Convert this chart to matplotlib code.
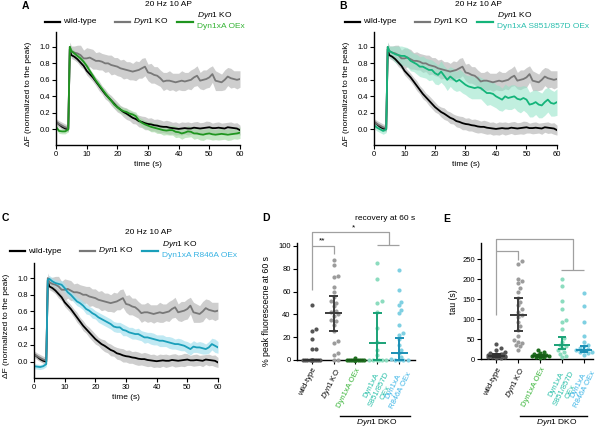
import numpy as np
import matplotlib
matplotlib.use('Agg')
import matplotlib.pyplot as plt
from matplotlib.lines import Line2D
from matplotlib.ticker import FormatStrFormatter

plt.rcParams['font.family'] = ['Liberation Sans', 'DejaVu Sans']
plt.rcParams['mathtext.fontset'] = 'custom'
plt.rcParams['mathtext.rm'] = 'Liberation Sans'
plt.rcParams['mathtext.it'] = 'Liberation Sans:italic'

W, H = 600, 428

# ---- traces (normalized dF), time in s ----
time = [0, 1, 2, 3, 4, 4.5] + list(range(5, 61))

wt_mean = [0.09, 0.06, 0.03, 0.01, 0.00, 0.97,
           0.90, 0.88, 0.85, 0.81, 0.77, 0.71, 0.67, 0.63, 0.58, 0.53,
           0.48, 0.43, 0.39, 0.35, 0.31, 0.27, 0.24, 0.21, 0.19, 0.165,
           0.14, 0.125, 0.10, 0.09, 0.075, 0.065, 0.06, 0.05, 0.045, 0.035,
           0.03, 0.03, 0.02, 0.015, 0.01, 0.005, 0.01, 0.015, 0.01, 0.01,
           0.02, 0.015, 0.01, 0.015, 0.02, 0.025, 0.015, 0.015, 0.02, 0.015,
           0.01, 0.025, 0.02, 0.015, 0.01, -0.01]
wt_err = [0.03, 0.03, 0.03, 0.03, 0.03, 0.04,
          0.04, 0.04, 0.04, 0.05, 0.04, 0.05, 0.05, 0.05, 0.05, 0.06,
          0.05, 0.06, 0.05, 0.06, 0.06, 0.06, 0.05, 0.06, 0.07, 0.06,
          0.07, 0.06, 0.07, 0.07, 0.08, 0.07, 0.08, 0.07, 0.08, 0.08,
          0.07, 0.08, 0.08, 0.07, 0.08, 0.07, 0.08, 0.07, 0.08, 0.07,
          0.07, 0.08, 0.07, 0.07, 0.08, 0.07, 0.06, 0.07, 0.07, 0.06,
          0.07, 0.06, 0.07, 0.06, 0.07, 0.06]

ko_mean = [0.09, 0.065, 0.045, 0.025, 0.015, 1.00,
           0.95, 0.93, 0.92, 0.90, 0.86, 0.86, 0.87, 0.85, 0.83, 0.83,
           0.82, 0.80, 0.80, 0.78, 0.77, 0.76, 0.74, 0.73, 0.72, 0.71,
           0.70, 0.71, 0.72, 0.74, 0.76, 0.69, 0.68, 0.66, 0.65, 0.62,
           0.58, 0.59, 0.59, 0.58, 0.57, 0.58, 0.59, 0.58, 0.59, 0.60,
           0.63, 0.65, 0.59, 0.60, 0.61, 0.63, 0.67, 0.59, 0.58, 0.57,
           0.60, 0.64, 0.62, 0.61, 0.60, 0.61]
ko_err = [0.04, 0.04, 0.04, 0.04, 0.04, 0.06,
          0.06, 0.08, 0.10, 0.12, 0.10, 0.13, 0.11, 0.12, 0.10, 0.11,
          0.10, 0.11, 0.10, 0.12, 0.10, 0.11, 0.10, 0.12, 0.10, 0.11,
          0.10, 0.12, 0.10, 0.12, 0.11, 0.10, 0.12, 0.10, 0.11, 0.10,
          0.11, 0.10, 0.12, 0.10, 0.11, 0.10, 0.12, 0.11, 0.10, 0.12,
          0.11, 0.12, 0.10, 0.12, 0.11, 0.12, 0.10, 0.12, 0.11, 0.10,
          0.12, 0.11, 0.12, 0.10, 0.11, 0.10]

oex_mean = [0.03, -0.02, -0.025, -0.025, 0.00, 1.00,
            0.95, 0.92, 0.89, 0.86, 0.82, 0.77, 0.71, 0.65, 0.59, 0.54,
            0.49, 0.44, 0.39, 0.35, 0.30, 0.27, 0.24, 0.22, 0.21, 0.19,
            0.18, 0.16, 0.11, 0.08, 0.06, 0.045, 0.03, 0.02, 0.01, 0.00,
            -0.01, -0.015, -0.01, -0.01, -0.03, -0.035, -0.05, -0.04, -0.025, -0.03,
            -0.05, -0.05, -0.06, -0.065, -0.055, -0.05, -0.06, -0.065, -0.06, -0.055,
            -0.06, -0.065, -0.06, -0.055, -0.05, -0.04]
oex_err = [0.03, 0.03, 0.03, 0.03, 0.03, 0.04,
           0.04, 0.03, 0.03, 0.03, 0.03, 0.03, 0.03, 0.03, 0.03, 0.03,
           0.03, 0.03, 0.04, 0.03, 0.04, 0.04, 0.04, 0.04, 0.04, 0.05,
           0.04, 0.05, 0.04, 0.05, 0.05, 0.05, 0.06, 0.05, 0.06, 0.05,
           0.06, 0.05, 0.06, 0.06, 0.07, 0.06, 0.07, 0.06, 0.07, 0.06,
           0.07, 0.06, 0.07, 0.07, 0.06, 0.07, 0.07, 0.06, 0.07, 0.07,
           0.06, 0.07, 0.07, 0.06, 0.07, 0.07]

s851_mean = [0.05, 0.02, 0.00, -0.02, 0.00, 1.00,
             0.95, 0.93, 0.91, 0.90, 0.89, 0.89, 0.87, 0.83, 0.81, 0.79,
             0.76, 0.76, 0.74, 0.72, 0.72, 0.68, 0.66, 0.70, 0.65, 0.60,
             0.64, 0.61, 0.58, 0.60, 0.57, 0.54, 0.52, 0.51, 0.50, 0.51,
             0.50, 0.47, 0.44, 0.44, 0.43, 0.40, 0.38, 0.36, 0.40, 0.38,
             0.39, 0.40, 0.37, 0.36, 0.38, 0.36, 0.30, 0.31, 0.33, 0.30,
             0.29, 0.33, 0.36, 0.32, 0.31, 0.33]
s851_err = [0.04, 0.04, 0.04, 0.04, 0.04, 0.05,
            0.06, 0.08, 0.10, 0.11, 0.12, 0.11, 0.12, 0.12, 0.11, 0.12,
            0.12, 0.13, 0.12, 0.13, 0.12, 0.13, 0.12, 0.13, 0.12, 0.13,
            0.12, 0.13, 0.12, 0.13, 0.13, 0.12, 0.13, 0.14, 0.13, 0.14,
            0.13, 0.14, 0.15, 0.14, 0.15, 0.14, 0.15, 0.14, 0.15, 0.14,
            0.15, 0.14, 0.15, 0.16, 0.15, 0.16, 0.15, 0.16, 0.15, 0.16,
            0.15, 0.16, 0.15, 0.16, 0.15, 0.16]

r846_mean = [-0.055, -0.06, -0.065, -0.055, -0.03, 0.98,
             0.99, 0.96, 0.94, 0.93, 0.92, 0.88, 0.83, 0.80, 0.76, 0.72,
             0.70, 0.67, 0.63, 0.61, 0.58, 0.56, 0.53, 0.51, 0.49, 0.47,
             0.45, 0.42, 0.41, 0.41, 0.38, 0.37, 0.35, 0.34, 0.33, 0.33,
             0.31, 0.29, 0.29, 0.28, 0.27, 0.26, 0.25, 0.25, 0.24, 0.23,
             0.22, 0.21, 0.21, 0.20, 0.19, 0.17, 0.15, 0.18, 0.17, 0.17,
             0.16, 0.15, 0.17, 0.21, 0.19, 0.17]
r846_err = [0.03, 0.03, 0.03, 0.03, 0.03, 0.04,
            0.04, 0.04, 0.04, 0.04, 0.05, 0.05, 0.05, 0.05, 0.05, 0.05,
            0.05, 0.05, 0.06, 0.05, 0.06, 0.05, 0.06, 0.06, 0.06, 0.06,
            0.06, 0.06, 0.06, 0.06, 0.07, 0.06, 0.06, 0.07, 0.06, 0.07,
            0.06, 0.07, 0.06, 0.07, 0.07, 0.06, 0.07, 0.07, 0.06, 0.07,
            0.07, 0.06, 0.07, 0.07, 0.06, 0.07, 0.07, 0.07, 0.06, 0.07,
            0.07, 0.06, 0.07, 0.07, 0.08, 0.07]

# ---- per-cell values for D and E ----
groups = ['wild-type', r'$\mathit{Dyn1}$ KO', 'Dyn1xA OEx',
          'Dyn1xA\nS851/857D\nOEx', 'Dyn1xA\nR846A OEx']
group_text_colors = ['black', 'black', '#36b336', '#26bfa8', '#3ab4e6']
dot_colors = ['#555555', '#9c9c9c', '#1f6e1f', '#8cdcbf', '#7fd0e2']
bar_colors = ['#333333', '#3c3c3c', '#175c17', '#1aa277', '#1a8fb5']

rec_wt = [48, 27, 25, 18, 10, 9.5, 0, 0, 0, 0, 0, 0, 0, 0, 0, 0, 0, 0]
rec_ko = [88, 83, 74, 73, 64, 60, 55, 52, 50, 47, 43, 42, 40, 39, 35, 34,
          31, 25, 17, 15, 6, 4, 0, 0]
rec_oex = [2, 0, 0, 0, 0, 0, 0, 0, 0, 0, 0, 0, 0, 0]
rec_s851 = [85, 71, 52, 50, 42, 28, 16, 9, 4, 0, 0, 0, 0, 0, 0]
rec_r846 = [79, 61, 51, 48, 44, 41, 31, 24, 22, 18, 13, 9, 6, 3, 1, 0, 0, 0, 0]
rec_med = [0, 41, 0, 15, 6]
rec_q1 = [0, 25, 0, 0, 0]
rec_q3 = [0, 56, 0, 41, 19]

tau_wt = [38, 27, 23, 19, 15, 13, 12, 12, 11, 10, 10, 9, 9, 8, 8, 8, 7, 7,
          6, 6, 5, 5, 4, 3]
tau_ko = [244, 237, 200, 194, 190, 178, 169, 152, 144, 136, 126, 119, 111,
          105, 94, 82, 73, 57, 48, 44, 40, 36, 32, 23]
tau_oex = [23, 19, 15, 13, 11, 10, 9, 8, 7, 6, 5, 4]
tau_s851 = [200, 182, 146, 126, 97, 92, 76, 52, 44, 36, 32, 27, 22, 17, 13, 8, 5]
tau_r846 = [165, 132, 92, 58, 42, 36, 32, 27, 25, 23, 21, 19, 17, 15, 11]
tau_med = [9, 111, 8, 35, 23]
tau_q1 = [6, 70, 5, 25, 17]
tau_q3 = [13, 154, 11, 55, 33]

fig = plt.figure(figsize=(W / 100, H / 100), dpi=100)


def add_ax(left, top, right, bottom):
    return fig.add_axes([left / W, 1 - bottom / H, (right - left) / W, (bottom - top) / H])


def ftext(x, y, s, **kw):
    kw.setdefault('fontsize', 6)
    kw.setdefault('va', 'center')
    fig.text(x / W, 1 - y / H, s, **kw)


def fline(x1, x2, y, color, lw=1.6):
    fig.add_artist(Line2D([x1 / W, x2 / W], [1 - y / H, 1 - y / H], color=color, lw=lw))


def style_axes(ax):
    for s in ['top', 'right']:
        ax.spines[s].set_visible(False)
    for s in ['left', 'bottom']:
        ax.spines[s].set_linewidth(1.0)
    ax.tick_params(direction='out', length=3, width=0.8, labelsize=5.5, pad=1.5)


def trace_panel(ax, m_mean, m_err, m_line, m_band, m_alpha):
    t = np.array(time)
    for m, e, c, a in [(wt_mean, wt_err, '#c2c2c2', 0.8), (ko_mean, ko_err, '#c2c2c2', 0.8),
                       (m_mean, m_err, m_band, m_alpha)]:
        m = np.array(m)
        e = np.array(e)
        ax.fill_between(t, m - e, m + e, color=c, lw=0, alpha=a)
    ax.plot(t, wt_mean, color='black', lw=1.3)
    ax.plot(t, ko_mean, color='#787878', lw=1.3)
    ax.plot(t, m_mean, color=m_line, lw=1.3)
    ax.set_xlim(0, 60)
    ax.set_ylim(-0.19, 1.18)
    ax.set_xticks(range(0, 61, 10))
    ax.set_yticks(np.arange(0, 1.01, 0.2))
    ax.yaxis.set_major_formatter(FormatStrFormatter('%.1f'))
    style_axes(ax)
    ax.set_xlabel('time (s)', fontsize=6, labelpad=2)
    ax.set_ylabel('ΔF (normalized to the peak)', fontsize=6, labelpad=5)
    ax.yaxis.set_label_coords(-0.13, 0.45)


def trace_legend(x0, y0, m_line, m_text, m_color):
    fline(x0, x0 + 15, y0, 'black')
    ftext(x0 + 18, y0, 'wild-type')
    fline(x0 + 70, x0 + 85, y0, '#787878')
    ftext(x0 + 88, y0, r'$\mathit{Dyn1}$ KO')
    fline(x0 + 132, x0 + 148, y0, m_line)
    ftext(x0 + 152, y0 - 6.5, r'$\mathit{Dyn1}$ KO')
    ftext(x0 + 152, y0 + 4.5, m_text, color=m_color)


def swarm_x(ax, xc, vals, diam=3.8, maxoff=9.0):
    pts = ax.transData.transform([(xc, v) for v in vals])
    x0 = pts[0, 0]
    order = np.argsort(pts[:, 1])
    cands = [0.0]
    k = 1
    while k * diam * 0.55 <= maxoff:
        cands += [k * diam * 0.55, -k * diam * 0.55]
        k += 1
    placed = []
    xs = np.zeros(len(vals))
    for i in order:
        y = pts[i, 1]
        best, best_d = 0.0, -1.0
        for c in cands:
            dmin = min([np.hypot(c - px, y - py) for px, py in placed], default=99.0)
            if dmin >= diam:
                best = c
                break
            if dmin > best_d:
                best, best_d = c, dmin
        placed.append((best, y))
        xs[i] = x0 + best
    return ax.transData.inverted().transform(np.column_stack([xs, pts[:, 1]]))[:, 0]


def dot_panel(ax, data, med, q1, q3, xlim, ylim, yticks, ylabel):
    ax.set_xlim(*xlim)
    ax.set_ylim(*ylim)
    style_axes(ax)
    for i, vals in enumerate(data):
        xs = swarm_x(ax, i, vals)
        ax.scatter(xs, vals, s=9, color=dot_colors[i], lw=0, clip_on=False, zorder=3)
        ax.vlines(i, q1[i], q3[i], color=bar_colors[i], lw=1.4, zorder=4, clip_on=False)
        ax.hlines(med[i], i - 0.38, i + 0.38, color=bar_colors[i], lw=1.4, zorder=4, clip_on=False)
        ax.hlines([q1[i], q3[i]], i - 0.2, i + 0.2, color=bar_colors[i], lw=1.4, zorder=4, clip_on=False)
    ax.set_yticks(yticks)
    ax.set_xticks(range(len(groups)))
    ax.set_xticklabels(groups, rotation=63, ha='right', rotation_mode='anchor',
                       multialignment='center', fontsize=5.5)
    for lab, c in zip(ax.get_xticklabels(), group_text_colors):
        lab.set_color(c)
    ax.tick_params(axis='x', pad=2)
    ax.set_ylabel(ylabel, fontsize=6.3, labelpad=3)


def bracket(ax, pts, color='#a0a0a0'):
    xs, ys = zip(*pts)
    ax.plot(xs, ys, color=color, lw=0.9, clip_on=False, solid_capstyle='butt')


# ---- A ----
axA = add_ax(56, 32, 240, 145)
trace_panel(axA, oex_mean, oex_err, '#1f951f', '#9fd89f', 0.6)
trace_legend(45, 21.7, '#1f951f', 'Dyn1xA OEx', '#34b334')
ftext(145, 4.5, '20 Hz 10 AP')
ftext(25, 6, 'A', fontsize=7.5, fontweight='bold', ha='center')

# ---- B ----
axB = add_ax(374, 32, 557, 145)
trace_panel(axB, s851_mean, s851_err, '#14b47a', '#8fe3c6', 0.55)
trace_legend(345, 21.7, '#14b47a', 'Dyn1xA S851/857D OEx', '#2bbfae')
ftext(455, 4.5, '20 Hz 10 AP')
ftext(343, 6, 'B', fontsize=7.5, fontweight='bold', ha='center')

# ---- C ----
axC = add_ax(34, 263, 218, 377.5)
trace_panel(axC, r846_mean, r846_err, '#1a9fba', '#a6e0ee', 0.7)
trace_legend(10, 251, '#1a9fba', 'Dyn1xA R846A OEx', '#39b3e3')
ftext(125, 232.5, '20 Hz 10 AP')
ftext(2, 218, 'C', fontsize=7.5, fontweight='bold')

# ---- D ----
axD = add_ax(297, 243, 415, 360)
dot_panel(axD, [rec_wt, rec_ko, rec_oex, rec_s851, rec_r846], rec_med, rec_q1, rec_q3,
          (-0.67, 4.72), (0, 102.6), range(0, 101, 20), '% peak fluorescecne at 60 s')
axD.yaxis.set_label_coords(-0.22, 0.42)
bracket(axD, [(0, 61), (0, 112.3), (3.54, 112.3), (3.54, 100.9)])
bracket(axD, [(3.0, 100.9), (4.0, 100.9)])
bracket(axD, [(0, 100.3), (1, 100.3), (1, 93)])
axD.text(1.9, 115.5, '*', ha='center', va='center', fontsize=6, clip_on=False)
axD.text(0.5, 104.5, '**', ha='center', va='center', fontsize=6, clip_on=False)
ftext(355, 218, 'recovery at 60 s')
fline(340, 410, 416, 'black', lw=1.0)
ftext(377, 423, r'$\mathit{Dyn1}$ DKO', ha='center')
ftext(266, 218, 'D', fontsize=7.5, fontweight='bold', ha='center')

# ---- E ----
axE = add_ax(481, 243, 593, 359.3)
dot_panel(axE, [tau_wt, tau_ko, tau_oex, tau_s851, tau_r846], tau_med, tau_q1, tau_q3,
          (-0.7, 4.41), (0, 290), range(0, 251, 50), 'tau (s)')
bracket(axE, [(0, 110), (0, 300), (3.5, 300), (3.5, 221.5)])
bracket(axE, [(2.95, 221.5), (4.0, 221.5)])
bracket(axE, [(0, 269), (1, 269), (1, 248)])
fline(520, 587, 416, 'black', lw=1.0)
ftext(557, 423, r'$\mathit{Dyn1}$ DKO', ha='center')
ftext(447, 219, 'E', fontsize=7.5, fontweight='bold', ha='center')

fig.savefig('out.png', dpi=100)
